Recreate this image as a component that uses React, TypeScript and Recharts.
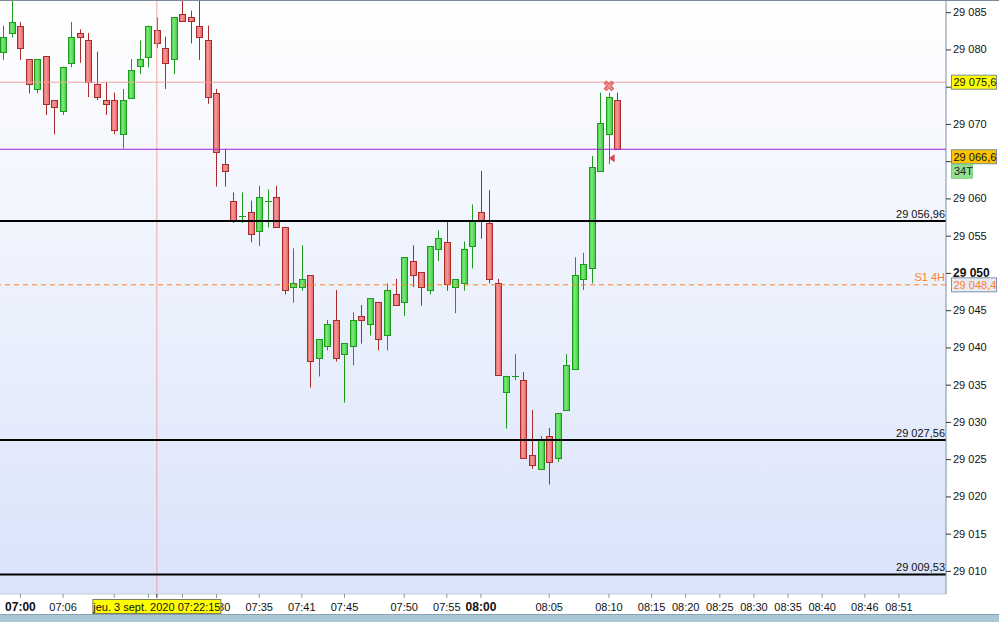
import React from 'react'
import {
  ComposedChart,
  Bar,
  Scatter,
  XAxis,
  YAxis,
  CartesianGrid,
  ReferenceLine,
} from 'recharts'

// 34-tick candles, OHLC
const opens = [
  29079.7, 29082.2, 29083.2, 29078.7, 29074.7, 29079.1, 29073.2, 29071.8, 29078.2, 29082.2,
  29081.2, 29075.3, 29073.2, 29073.2, 29068.7, 29073.6, 29077.7, 29079.1, 29082.6, 29080.2,
  29078.7, 29084.7, 29084.3, 29083.2, 29081.2, 29074.2, 29064.6, 29059.7, 29057.6, 29058.2,
  29055.6, 29059.7, 29060.2, 29056.2, 29048.1, 29048.1, 29049.7, 29038.6, 29040.2, 29043.7,
  29039.1, 29040.2, 29044.2, 29043.1, 29046.1, 29041.7, 29047.2, 29046.1, 29051.6, 29050.1,
  29047.7, 29053.2, 29054.2, 29048.1, 29048.6, 29053.6, 29058.2, 29056.7, 29048.6, 29034.1,
  29036.2, 29035.6, 29025.5, 29023.7, 29028.1, 29025.1, 29031.6, 29037.1, 29049.2, 29050.7,
  29063.7, 29068.7, 29073.2,
]
const highs = [
  29083.2, 29086.9, 29083.7, 29078.7, 29078.7, 29079.1, 29073.2, 29077.7, 29083.7, 29082.7,
  29082.2, 29079.7, 29075.6, 29074.2, 29074.7, 29078.7, 29081.2, 29083.2, 29084.3, 29081.7,
  29084.3, 29086.9, 29085.2, 29086.9, 29083.2, 29074.7, 29066.6, 29060.8, 29060.8, 29059.7,
  29061.7, 29061.2, 29061.7, 29056.2, 29053.3, 29053.7, 29049.7, 29041.1, 29043.7, 29047.7,
  29040.6, 29044.7, 29045.7, 29046.6, 29046.1, 29048.6, 29049.2, 29052.1, 29053.7, 29050.1,
  29053.6, 29055.7, 29057.0, 29049.2, 29054.2, 29059.2, 29063.7, 29061.1, 29049.2, 29036.2,
  29039.1, 29036.7, 29031.6, 29028.1, 29029.2, 29031.2, 29039.1, 29052.1, 29052.7, 29065.7,
  29074.2, 29074.2, 29074.2,
]
const lows = [
  29078.6, 29081.6, 29078.6, 29074.1, 29074.1, 29071.2, 29068.6, 29071.2, 29077.6, 29078.2,
  29073.6, 29073.2, 29071.2, 29068.6, 29066.7, 29073.6, 29076.7, 29077.6, 29080.2, 29074.7,
  29076.7, 29083.7, 29080.8, 29078.6, 29072.7, 29061.6, 29061.6, 29056.7, 29056.7, 29054.1,
  29053.6, 29056.1, 29056.2, 29047.1, 29046.0, 29047.6, 29034.6, 29036.1, 29039.6, 29038.1,
  29032.6, 29037.6, 29040.5, 29041.6, 29039.6, 29039.6, 29045.7, 29044.2, 29048.1, 29045.6,
  29047.1, 29051.6, 29047.6, 29044.6, 29047.6, 29050.6, 29054.6, 29048.6, 29036.2, 29029.1,
  29035.6, 29025.1, 29023.7, 29023.7, 29021.6, 29024.6, 29031.6, 29037.1, 29047.7, 29048.6,
  29063.7, 29064.6, 29066.6,
]
const closes = [
  29081.7, 29083.7, 29080.2, 29075.3, 29078.7, 29072.7, 29072.2, 29077.7, 29081.7, 29081.7,
  29075.6, 29073.6, 29072.7, 29069.2, 29073.2, 29077.3, 29078.7, 29083.2, 29080.8, 29078.2,
  29084.3, 29083.7, 29083.7, 29081.7, 29073.6, 29066.3, 29063.7, 29057.2, 29057.6, 29055.2,
  29060.2, 29059.7, 29056.2, 29047.7, 29048.7, 29049.2, 29038.2, 29041.1, 29043.1, 29038.6,
  29040.6, 29043.7, 29043.7, 29046.6, 29041.1, 29047.7, 29045.7, 29052.1, 29049.7, 29048.1,
  29053.6, 29054.7, 29048.6, 29049.2, 29053.2, 29057.0, 29057.0, 29049.2, 29036.2, 29036.2,
  29036.2, 29025.1, 29024.1, 29027.6, 29024.6, 29031.2, 29037.6, 29049.7, 29051.2, 29064.2,
  29070.1, 29073.6, 29066.6,
]

// time axis (tick chart, so labels sit on candle indices)
// labels under the crosshair date box are hidden in the screenshot, left blank here
const timeTickIdx = [2, 7, 13, 17, 21, 25, 30, 35, 40, 47, 52, 56, 64, 71, 76, 80, 84, 88, 92, 96, 101, 105]
const timeLabels = [
  '07:00', '07:06', '', '', '', '07:30', '07:35', '07:41', '07:45', '07:50', '07:55',
  '08:00', '08:05', '08:10', '08:15', '08:20', '08:25', '08:30', '08:35', '08:40', '08:46', '08:51',
]
const crosshairIdx = 18
const crosshairLabel = 'jeu. 3 sept. 2020 07:22:15'

const priceTicks = [
  29010, 29015, 29020, 29025, 29030, 29035, 29040, 29045, 29050, 29055, 29060, 29065, 29070, 29075, 29080, 29085,
]
const levels = [29056.96, 29027.56, 29009.53]
const levelLabels = ['29 056,96', '29 027,56', '29 009,53']
const cursorPrice = 29075.6
const lastPrice = 29066.6
const s1Price = 29048.4

const sellMarks = [{ i: 71, v: 29075.1 }]
const arrowMarks = [{ i: 71.4, v: 29065.4 }]

const candles = opens.map((o, i) => ({
  i,
  o,
  h: highs[i],
  l: lows[i],
  c: closes[i],
  range: [lows[i], highs[i]],
}))

const FONT = '"Liberation Sans", Arial, sans-serif'
const fmtPrice = (v: number) => String(v).replace(/\B(?=(\d{3})+(?!\d))/g, ' ')

function Candle(props: any) {
  const { x, y, width, height, payload } = props
  if (!payload) return null
  const { o, h, l, c } = payload
  const span = Math.abs(height)
  const top = Math.min(y, y + height)
  const ppu = span / (h - l)
  const cx = Math.round(x + width / 2) + 0.5
  const up = c >= o
  const edge = up ? '#1d9a1d' : '#a82c2c'
  const bTop = top + (h - Math.max(o, c)) * ppu
  const bBot = top + (h - Math.min(o, c)) * ppu
  const by = Math.round(bTop) + 0.5
  return (
    <g>
      <line x1={cx} x2={cx} y1={top} y2={top + span} stroke={edge} strokeWidth={1} />
      {bBot - bTop < 1.5 ? (
        <line x1={cx - 3.5} x2={cx + 3.5} y1={by} y2={by} stroke={edge} strokeWidth={1} />
      ) : (
        <rect
          x={cx - 3}
          y={by}
          width={6}
          height={Math.max(1, Math.round(bBot - bTop))}
          fill={up ? 'url(#upBody)' : 'url(#downBody)'}
          stroke={edge}
          strokeWidth={1}
        />
      )}
    </g>
  )
}

function SellMark(props: any) {
  const { cx, cy } = props
  return (
    <g>
      <path d={`M${cx - 4},${cy - 4}L${cx + 4},${cy + 4}M${cx + 4},${cy - 4}L${cx - 4},${cy + 4}`} stroke="#e06060" strokeWidth={4} />
      <path d={`M${cx - 3},${cy - 3}L${cx + 3},${cy + 3}M${cx + 3},${cy - 3}L${cx - 3},${cy + 3}`} stroke="#f09a9a" strokeWidth={1.5} />
    </g>
  )
}

function ArrowMark(props: any) {
  const { cx, cy } = props
  return <path d={`M${cx - 3},${cy}L${cx + 2},${cy - 3.5}L${cx + 2},${cy + 3.5}Z`} fill="#e04545" stroke="#c03030" strokeWidth={0.5} />
}

function PriceTick(props: any) {
  const { x, y, payload } = props
  const v = payload.value
  const covered = Math.abs(v - cursorPrice) < 1 || (v <= lastPrice && v > lastPrice - 2.5)
  const bold = v % 50 === 0
  return (
    <g>
      <line x1={x} x2={x + 5} y1={y + 0.5} y2={y + 0.5} stroke="#333" />
      {!covered && (
        <text
          x={x + 7}
          y={y + 4}
          fill="#111"
          fontSize={bold ? 12 : 11}
          fontWeight={bold ? 'bold' : 'normal'}
          fontFamily={FONT}
        >
          {fmtPrice(v)}
        </text>
      )}
    </g>
  )
}

function TimeTick(props: any) {
  const { x, y, payload } = props
  const v = payload.value
  if (v === crosshairIdx) {
    return (
      <g>
        <line x1={x} x2={x} y1={y} y2={y + 4} stroke="#222" />
        <rect x={x - 64} y={y + 5.5} width={128} height={14} fill="#ffff00" stroke="#7d7d55" />
        <text x={x} y={y + 16.5} textAnchor="middle" fill="#111" fontSize={11} fontFamily={FONT}>
          {crosshairLabel}
        </text>
      </g>
    )
  }
  const label = timeLabels[timeTickIdx.indexOf(v)] ?? ''
  const bold = label.endsWith(':00')
  return (
    <g>
      <line x1={x} x2={x} y1={y} y2={y + 4} stroke="#8a96a4" />
      {label && (
        <text
          x={x}
          y={y + 17}
          textAnchor="middle"
          fill="#111"
          fontSize={bold ? 12 : 11}
          fontWeight={bold ? 'bold' : 'normal'}
          fontFamily={FONT}
        >
          {label}
        </text>
      )}
    </g>
  )
}

// boxes on the price scale
function AxisBox(props: any) {
  const { viewBox, text, fill, color, border, anchor, extra } = props
  if (!viewBox) return null
  const bx = viewBox.x + viewBox.width + 5
  const top = anchor === 'top' ? viewBox.y : viewBox.y - 7.5
  return (
    <g>
      {props.inner && (
        <text x={viewBox.x + viewBox.width - 1} y={viewBox.y - 4} textAnchor="end" fill={color} fontSize={11} fontFamily={FONT}>
          {props.inner}
        </text>
      )}
      <rect x={bx + 0.5} y={top + 0.5} width={45} height={14} fill={fill} stroke={border} />
      <text x={bx + 2.5} y={top + 11.5} fill={color} fontSize={11} fontFamily={FONT}>
        {text}
      </text>
      {extra && (
        <g>
          <rect x={bx + 0.5} y={top + 15} width={21} height={14} fill="#90e090" stroke="#7ccf7c" />
          <text x={bx + 3} y={top + 26} fill="#222" fontSize={11} fontFamily={FONT}>
            {extra}
          </text>
        </g>
      )}
    </g>
  )
}

function LevelLabel(props: any) {
  const { viewBox, text } = props
  if (!viewBox) return null
  return (
    <text x={viewBox.x + viewBox.width - 1} y={viewBox.y - 3} textAnchor="end" fill="#111" fontSize={11} fontFamily={FONT}>
      {text}
    </text>
  )
}

export default function App() {
  return (
    <div style={{ width: 999, height: 622, background: '#fff', overflow: 'hidden' }}>
      <style>{'body{margin:0}'}</style>
      <div style={{ borderTop: '1px solid #7b8a98', height: 613 }}>
        <ComposedChart width={999} height={613} data={candles} margin={{ top: 0, right: 0, bottom: 0, left: 0 }}>
          <defs>
            <linearGradient id="plotBg" x1="0" y1="0" x2="0" y2="1">
              <stop offset="0%" stopColor="#ffffff" />
              <stop offset="100%" stopColor="#d9e3fa" />
            </linearGradient>
            <linearGradient id="upBody" x1="0" y1="0" x2="1" y2="0">
              <stop offset="0%" stopColor="#45cf45" />
              <stop offset="40%" stopColor="#79ea79" />
              <stop offset="100%" stopColor="#3cc93c" />
            </linearGradient>
            <linearGradient id="downBody" x1="0" y1="0" x2="1" y2="0">
              <stop offset="0%" stopColor="#e86464" />
              <stop offset="40%" stopColor="#f59a9a" />
              <stop offset="100%" stopColor="#e45e5e" />
            </linearGradient>
          </defs>
          <CartesianGrid horizontal={false} vertical={false} fill="url(#plotBg)" stroke="none" />
          <XAxis
            type="number"
            dataKey="i"
            domain={[-0.39, 110.52]}
            allowDataOverflow
            ticks={[...timeTickIdx, crosshairIdx]}
            interval={0}
            height={20}
            tickSize={0}
            tickMargin={0}
            tickLine={false}
            axisLine={{ stroke: '#c3cedd' }}
            tick={<TimeTick />}
          />
          <YAxis
            orientation="right"
            domain={[29006.9, 29086.5]}
            allowDataOverflow
            ticks={priceTicks}
            interval={0}
            width={53}
            tickSize={0}
            tickMargin={0}
            tickLine={false}
            axisLine={{ stroke: '#7e90a2' }}
            tick={<PriceTick />}
          />
          <ReferenceLine x={crosshairIdx} stroke="#f2a6a6" />
          <ReferenceLine
            y={cursorPrice}
            stroke="#f4a0a0"
            label={<AxisBox text="29 075,6" fill="#ffff00" color="#111" border="#7b8a98" anchor="center" />}
          />
          <ReferenceLine
            y={lastPrice}
            stroke="#a020d0"
            label={<AxisBox text="29 066,6" fill="#ffc400" color="#111" border="#7b8a98" anchor="top" extra="34T" />}
          />
          {levels.map((lv, k) => (
            <ReferenceLine key={lv} y={lv} stroke="#000" strokeWidth={2} label={<LevelLabel text={levelLabels[k]} />} />
          ))}
          <ReferenceLine
            y={s1Price}
            stroke="#ff7f27"
            strokeDasharray="5 4"
            label={<AxisBox text="29 048,4" inner="S1 4H" fill="#e7ebf5" color="#ff7f27" border="#8292a8" anchor="center" />}
          />
          <Bar dataKey="range" barSize={7} shape={<Candle />} isAnimationActive={false} />
          <Scatter data={sellMarks} dataKey="v" shape={<SellMark />} isAnimationActive={false} />
          <Scatter data={arrowMarks} dataKey="v" shape={<ArrowMark />} isAnimationActive={false} />
        </ComposedChart>
      </div>
      <div style={{ height: 7, borderTop: '1px solid #8aa4b3', background: '#a9c6d5' }} />
    </div>
  )
}
